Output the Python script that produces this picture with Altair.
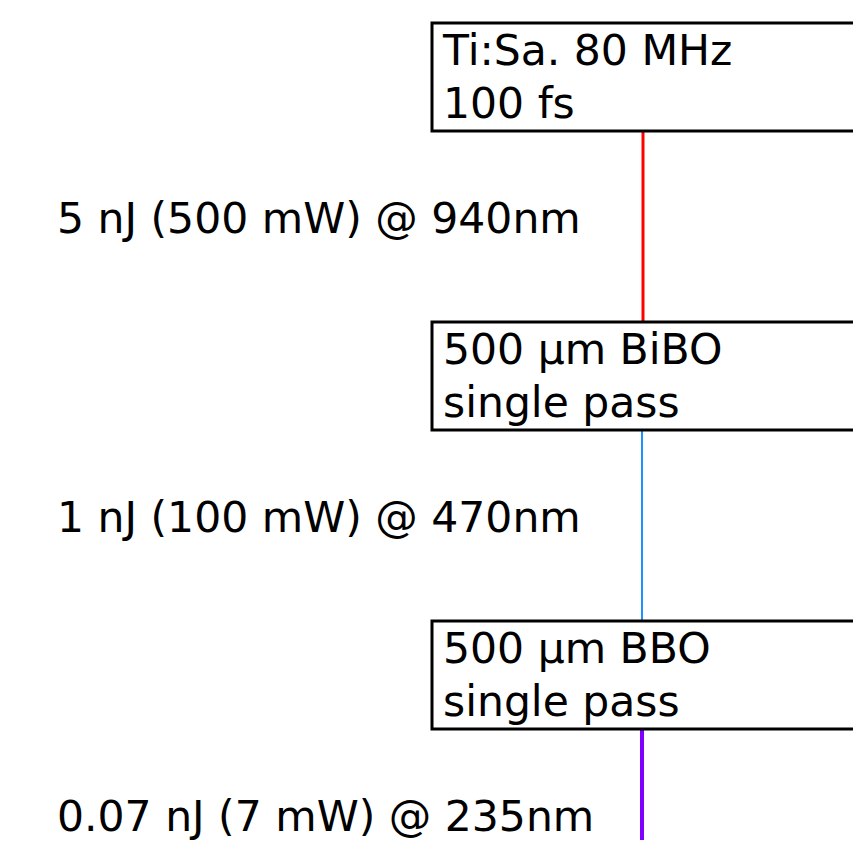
import altair as alt
import pandas as pd

# ---- content ----
stage_line1 = ["Ti:Sa. 80 MHz", "500 µm BiBO", "500 µm BBO"]
stage_line2 = ["100 fs", "single pass", "single pass"]
beam_labels = ["5 nJ (500 mW) @ 940nm", "1 nJ (100 mW) @ 470nm", "0.07 nJ (7 mW) @ 235nm"]
beam_colors = ["#ff0000", "#1e90ff", "#8000ff"]
beam_widths = [3, 2, 4]

# ---- layout (page pixel coordinates) ----
W, H = 845, 832
X0, Y0 = 8, 8
BOX_LEFT, BOX_RIGHT = 432, 1000
BOX_TOP0, BOX_STEP, BOX_H = 23, 299, 108
BEAM_X = [643, 642, 642]
PAGE_BOTTOM = 870
FONT = 42.5

boxes, texts, beams, blabels = [], [], [], []
n = len(stage_line1)
for i in range(n):
    top = BOX_TOP0 + i * BOX_STEP
    bot = top + BOX_H
    boxes.append(dict(x=BOX_LEFT, x2=BOX_RIGHT, y=top, y2=bot))
    texts.append(dict(x=BOX_LEFT + 11, y=top + 42, t=stage_line1[i]))
    texts.append(dict(x=BOX_LEFT + 11, y=top + 95, t=stage_line2[i]))
    nxt = BOX_TOP0 + (i + 1) * BOX_STEP if i < n - 1 else PAGE_BOTTOM
    beams.append(dict(x=BEAM_X[i], y=bot, y2=nxt))
    blabels.append(dict(x=57, y=bot + 102, t=beam_labels[i]))

xs = alt.Scale(domain=[X0, X0 + W], range=[0, W])
ys = alt.Scale(domain=[Y0, Y0 + H], range=[0, H])

beam_layers = []
for i, b in enumerate(beams):
    beam_layers.append(
        alt.Chart(pd.DataFrame([b])).mark_rule(
            color=beam_colors[i], strokeWidth=beam_widths[i]
        ).encode(
            x=alt.X("x:Q", scale=xs, axis=None),
            y=alt.Y("y:Q", scale=ys, axis=None),
            y2="y2:Q",
        )
    )

box_layer = alt.Chart(pd.DataFrame(boxes)).mark_rect(
    fill="white", stroke="black", strokeWidth=3
).encode(
    x=alt.X("x:Q", scale=xs, axis=None),
    x2="x2:Q",
    y=alt.Y("y:Q", scale=ys, axis=None),
    y2="y2:Q",
)

text_layer = alt.Chart(pd.DataFrame(texts)).mark_text(
    align="left", baseline="alphabetic", font="DejaVu Sans", fontSize=FONT, color="black"
).encode(
    x=alt.X("x:Q", scale=xs, axis=None),
    y=alt.Y("y:Q", scale=ys, axis=None),
    text="t:N",
)

blabel_layer = alt.Chart(pd.DataFrame(blabels)).mark_text(
    align="left", baseline="alphabetic", font="DejaVu Sans", fontSize=FONT, color="black"
).encode(
    x=alt.X("x:Q", scale=xs, axis=None),
    y=alt.Y("y:Q", scale=ys, axis=None),
    text="t:N",
)

chart = alt.layer(*beam_layers, box_layer, text_layer, blabel_layer).properties(
    width=W, height=H, padding=0, background="white",
    autosize=alt.AutoSizeParams(type="none"),
).configure_view(strokeWidth=0, stroke="transparent")

chart.save("out.html", embed_options={"renderer": "svg", "actions": False})
